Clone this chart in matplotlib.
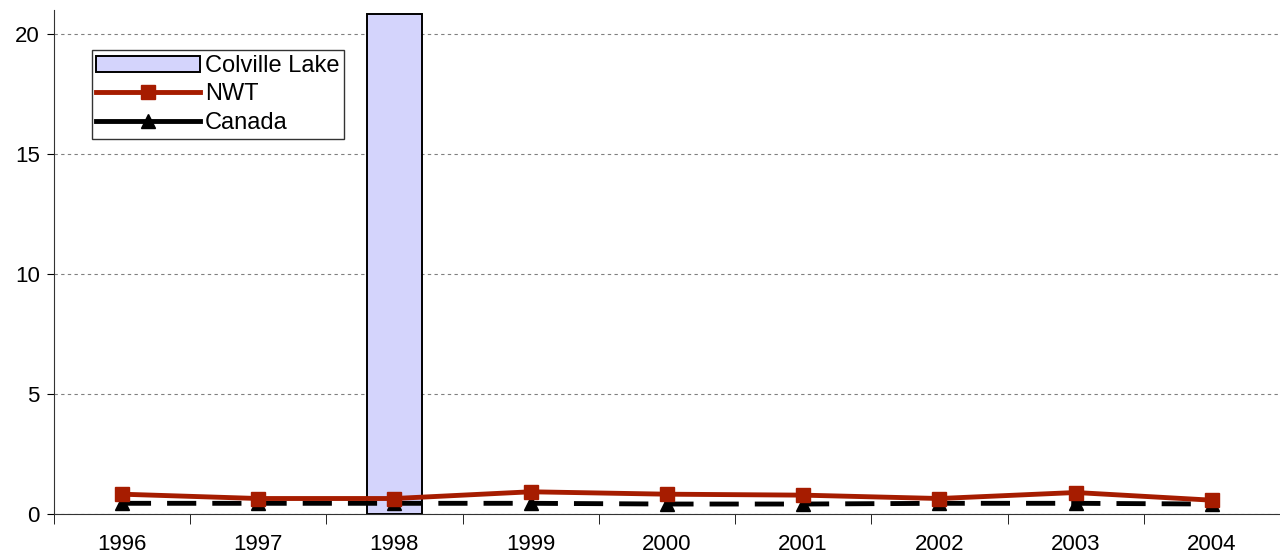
import matplotlib
matplotlib.use("Agg")
import matplotlib.pyplot as plt
from matplotlib.lines import Line2D
import numpy as np

years = ["1996", "1997", "1998", "1999", "2000", "2001", "2002", "2003", "2004"]
colville = [np.nan, np.nan, 20.85, np.nan, np.nan, np.nan, np.nan, np.nan, np.nan]
nwt = [0.83, 0.65, 0.65, 0.93, 0.83, 0.79, 0.65, 0.90, 0.58]
canada = [0.45, 0.45, 0.45, 0.45, 0.42, 0.42, 0.45, 0.45, 0.42]
yticks = [0, 5, 10, 15, 20]

plt.rcParams['font.family'] = ['Liberation Sans', 'DejaVu Sans']
fig = plt.figure(figsize=(12.8, 5.57), dpi=100)
ax = fig.add_axes([0.042, 0.077, 0.958, 0.905])

x = np.arange(len(years))
b = ax.bar(x, colville, width=0.4, color='#D4D4FC', edgecolor='black', linewidth=1.4,
           label='Colville Lake', zorder=2)
l1, = ax.plot(x, nwt, color='#A61C00', linewidth=3.5, marker='s', markersize=10,
              label='NWT', zorder=4)
l2, = ax.plot(x, canada, color='black', linewidth=3.5, linestyle=(0, (6, 3.3)), marker='^',
              markersize=10, label='Canada', zorder=3)

ax.set_xlim(-0.5, len(years) - 0.5)
ax.set_ylim(0, 21)
ax.set_yticks(yticks)
ax.set_yticklabels([str(v) for v in yticks], fontsize=16)
ax.set_xticks(x)
ax.set_xticklabels(years, fontsize=16)
ax.set_xticks(np.arange(-0.5, len(years), 1), minor=True)
ax.tick_params(axis='x', which='major', length=0, pad=14)
ax.tick_params(axis='x', which='minor', length=7, direction='out', color='black')
ax.tick_params(axis='y', length=5, direction='out', pad=5)
ax.yaxis.grid(True, linestyle=(0, (3, 3)), color='#808080', linewidth=0.8)
ax.set_axisbelow(True)
for s in ['top', 'right']:
    ax.spines[s].set_visible(False)
ax.spines['left'].set_color('#333333')
ax.spines['bottom'].set_color('#333333')

canada_handle = Line2D([], [], color='black', linewidth=3.5, linestyle='-', marker='^',
                       markersize=10)
leg = ax.legend([b, l1, canada_handle], ['Colville Lake', 'NWT', 'Canada'],
                loc='upper left', bbox_to_anchor=(0.031, 0.92), fontsize=17,
                frameon=True, fancybox=False, edgecolor='black', handlelength=4.4,
                borderpad=0.2, labelspacing=0.27, handletextpad=0.2, borderaxespad=0)
leg.get_frame().set_linewidth(1.0)

fig.savefig("out.png", dpi=100)
